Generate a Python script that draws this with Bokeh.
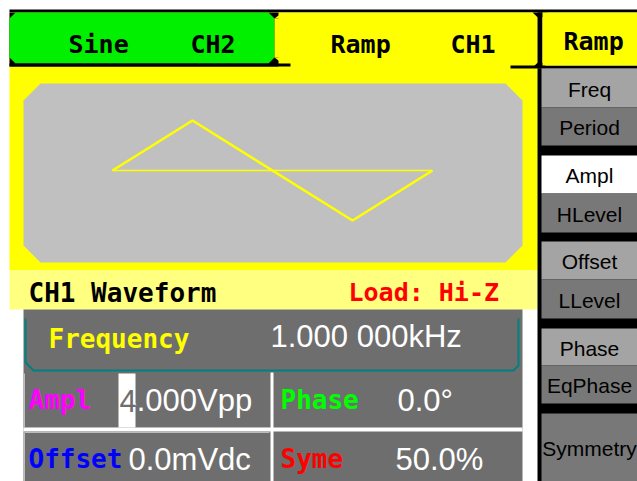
from bokeh.plotting import figure
from bokeh.models import Range1d
from bokeh.embed import file_html
from bokeh.resources import INLINE

# ---------------- data ----------------
tab_labels = ["Sine", "CH2", "Ramp", "CH1"]
menu_title = "Ramp"
wave_phase = [0.0, 0.25, 0.75, 1.0]      # one period of the ramp (symmetry 50 %)
wave_level = [0.0, 1.0, -1.0, 0.0]
zero_phase = [0.0, 1.0]
zero_level = [0.0, 0.0]
status_left = "CH1 Waveform"
status_right = "Load: Hi-Z"
param_names = ["Frequency", "Ampl", "Phase", "Offset", "Syme"]
param_values = ["1.000 000kHz", "4.000Vpp", "0.0°", "0.0mVdc", "50.0%"]
cursor_digit = "4"
menu_labels = ["Freq", "Period", "Ampl", "HLevel", "Offset", "LLevel", "Phase", "EqPhase", "Symmetry"]

# ---------------- styles ----------------
YEL = "#ffff00"
LYEL = "#ffff80"
GRN = "#00f000"
SCR = "#c0c0c0"
PANEL = "#6e6e6e"
TEAL = "#008080"
BTN_L = "#a4a4a4"
BTN_D = "#787878"
MONO = "DejaVu Sans Mono"
NUM = "Liberation Sans"
UI = "Liberation Sans"

W, H = 637, 481
p = figure(width=W, height=H, x_range=Range1d(0, W), y_range=Range1d(H, 0),
           output_backend="svg", toolbar_location=None, min_border=0,
           x_axis_location=None, y_axis_location=None,
           background_fill_color="white", border_fill_color="white", outline_line_color=None)
p.grid.visible = False

def rect(l, r, t, b, c):
    p.quad(left=l, right=r, top=t, bottom=b, fill_color=c, line_color=None)

def poly(xs, ys, c):
    p.patch(xs, ys, fill_color=c, line_color=None)

def octagon(l, r, t, b, k, c):
    poly([l + k, r - k, r, r, r - k, l + k, l, l], [t, t, t + k, b - k, b, b, b - k, t + k], c)

def txt(x, y, s, color, font, size, style="normal", align="left"):
    p.text(x=[x], y=[y], text=[s], text_color=color, text_font={"value": font},
           text_font_size=f"{size}px", text_font_style=style, text_align=align,
           text_baseline="middle")

# top line
rect(9, 637, 9, 12, "black")
# yellow body + active tab
rect(9, 537, 12, 270, YEL)
rect(9, 537, 270, 309, LYEL)
# green inactive tab with black corners
rect(9, 278, 12, 66, "black")
octagon(9, 274, 12, 63, 6, GRN)
poly([274, 282, 282], [57, 57, 63], YEL)
poly([274, 282, 282], [18, 18, 12], YEL)
rect(274, 282, 18, 57, YEL)
rect(9, 290, 63, 66, "black")
# separator between tabs and right menu
rect(537, 542, 12, 68, "black")
poly([532, 547, 539.5], [12, 12, 19], "black")
poly([532, 547, 539.5], [67, 67, 60], "black")
rect(510, 637, 65, 68, "black")
# right menu title tab
rect(542, 637, 12, 65, YEL)

# waveform screen
octagon(23, 522, 83, 262, 17, SCR)
p.extra_x_ranges = {"wave": Range1d(-0.35, 1.640625)}
p.extra_y_ranges = {"wave": Range1d(-6.22, 3.4)}
p.line(zero_phase, zero_level, x_range_name="wave", y_range_name="wave",
       line_color=YEL, line_width=1.5)
p.line(wave_phase, wave_level, x_range_name="wave", y_range_name="wave",
       line_color=YEL, line_width=2.6)

# parameter panel
rect(23, 522, 309, 481, PANEL)
p.line([25, 25, 33, 513, 518, 518], [318, 362, 370, 370, 365, 318], line_color=TEAL, line_width=2)
rect(23, 522, 427, 431, "white")
rect(270, 273, 372, 481, "white")
p.line([24, 24, 269], [373, 427, 427], line_color="#bdbdbd", line_width=1)
p.line([24, 24, 269], [481, 432, 432], line_color="#bdbdbd", line_width=1)
rect(118, 135, 373, 427, "white")

# right menu buttons
rect(537, 637, 68, 481, "black")
btn_top = [68, 107, 155, 193, 241, 279, 328, 365, 413]
btn_bot = [107, 145, 193, 232, 279, 318, 365, 403, 481]
btn_col = [BTN_L, BTN_D, "white", BTN_D, BTN_L, BTN_D, BTN_L, BTN_D, BTN_D]
for t, b, c in zip(btn_top, btn_bot, btn_col):
    rect(541, 637, t, b, c)
for lab, t, b in zip(menu_labels, btn_top, btn_bot):
    txt(589, (t + b) / 2 + 1, lab, "black", UI, 21, align="center")

# tab texts
txt(68, 44, tab_labels[0], "black", MONO, 25, "bold")
txt(190, 44, tab_labels[1], "black", MONO, 25, "bold")
txt(330, 44, tab_labels[2], "black", MONO, 25, "bold")
txt(450, 44, tab_labels[3], "black", MONO, 25, "bold")
txt(563, 41, menu_title, "black", MONO, 25, "bold")

# status strip
txt(28, 292, status_left, "black", MONO, 26, "bold")
txt(348, 292, status_right, "#ff0000", MONO, 25, "bold")

# parameter names
txt(48, 338, param_names[0], YEL, MONO, 26, "bold")
txt(28, 399, param_names[1], "#ff00ff", MONO, 26, "bold")
txt(280, 399, param_names[2], "#00ff00", MONO, 26, "bold")
txt(28, 458, param_names[3], "#0000ff", MONO, 26, "bold")
txt(280, 458, param_names[4], "#ff0000", MONO, 26, "bold")

# parameter values
txt(270, 336, param_values[0], "white", NUM, 31)
txt(119, 400, param_values[1], "white", NUM, 31)
txt(119, 400, cursor_digit, PANEL, NUM, 31)
txt(397, 400, param_values[2], "white", NUM, 31)
txt(128, 459, param_values[3], "white", NUM, 31)
txt(395, 459, param_values[4], "white", NUM, 31)

open("out.html", "w").write(file_html(p, INLINE))
